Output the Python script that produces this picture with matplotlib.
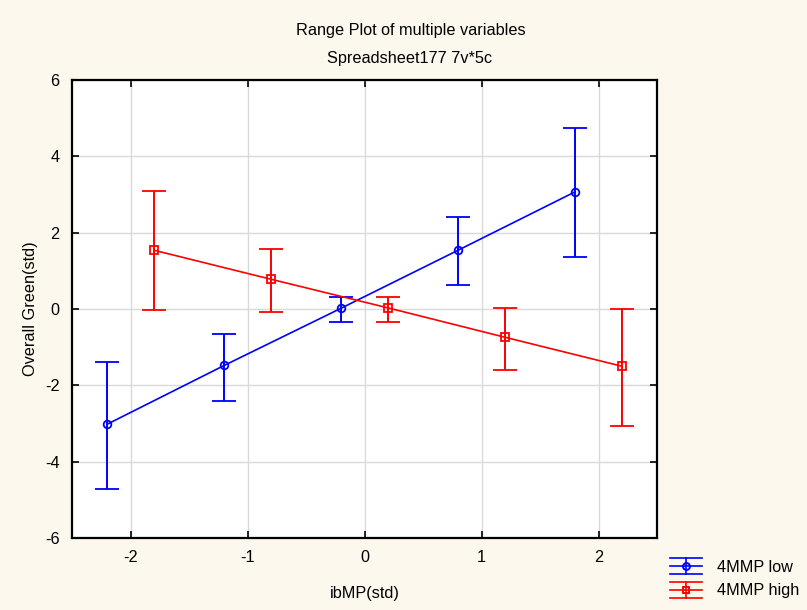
import matplotlib
matplotlib.use("Agg")
import matplotlib.pyplot as plt
from matplotlib.lines import Line2D

plt.rcParams['font.family'] = ['Liberation Sans', 'DejaVu Sans']

x_low = [-2.2, -1.2, -0.2, 0.8, 1.8]
y_low = [-3.02, -1.48, 0.02, 1.54, 3.07]
up_low = [-1.40, -0.66, 0.32, 2.41, 4.73]
lo_low = [-4.72, -2.42, -0.35, 0.63, 1.36]

x_high = [-1.8, -0.8, 0.2, 1.2, 2.2]
y_high = [1.54, 0.78, 0.03, -0.74, -1.50]
up_high = [3.08, 1.58, 0.32, 0.03, -0.01]
lo_high = [-0.02, -0.07, -0.35, -1.59, -3.07]

labels = ['4MMP low', '4MMP high']
colors = ['#0000FF', '#FF0000']
markers = ['o', 's']

xticks = [-2, -1, 0, 1, 2]
yticks = [-6, -4, -2, 0, 2, 4, 6]

W, H = 807, 610
FS = 11.7
bg = '#FCF8EE'
fig = plt.figure(figsize=(W / 100, H / 100), dpi=100, facecolor=bg)
ax = fig.add_axes([72 / W, 1 - 538 / H, (657 - 72) / W, (538 - 80) / H])
ax.set_facecolor('white')


def draw(x, y, up, lo, color, marker, label):
    yerr = [[yi - l for yi, l in zip(y, lo)], [u - yi for yi, u in zip(y, up)]]
    return ax.errorbar(x, y, yerr=yerr, color=color, ecolor=color, lw=1.2,
                       elinewidth=1.4, capsize=8.5, capthick=1.4,
                       marker=marker, ms=5.5, mfc='none', mec=color, mew=1.3,
                       label=label, zorder=3)


draw(x_low, y_low, up_low, lo_low, colors[0], markers[0], labels[0])
draw(x_high, y_high, up_high, lo_high, colors[1], markers[1], labels[1])

ax.set_xlim(-2.5, 2.5)
ax.set_ylim(-6, 6)
ax.set_xticks(xticks)
ax.set_yticks(yticks)
ax.set_xticklabels([str(v) for v in xticks])
ax.set_yticklabels([str(v) for v in yticks])
ax.grid(True, color='#D9D9D9', lw=1)
ax.set_axisbelow(True)
ax.tick_params(direction='in', top=True, right=True, length=5, width=1.2,
               labelsize=FS, pad=9, colors='black')
for s in ax.spines.values():
    s.set_linewidth(1.6)
    s.set_color('black')

ax.set_xlabel('ibMP(std)', fontsize=FS, labelpad=15)
ax.set_ylabel('Overall Green(std)', fontsize=FS, labelpad=5)

fig.text(411 / W, 1 - 30 / H, 'Range Plot of multiple variables', ha='center', va='center', fontsize=FS)
fig.text(410 / W, 1 - 58 / H, 'Spreadsheet177 7v*5c', ha='center', va='center', fontsize=FS)


# Legend (drawn manually to match the range-plot glyph)
def fx(px):
    return px / W


def fy(py):
    return 1 - py / H


x0, x1, xc = 670, 702, 686
for i, (lab, col, mk) in enumerate(zip(labels, colors, markers)):
    yc = 566 + i * 24
    for dy in (-8, 0, 8):
        fig.add_artist(Line2D([fx(x0), fx(x1)], [fy(yc + dy), fy(yc + dy)],
                              transform=fig.transFigure, color=col, lw=1.2))
    fig.add_artist(Line2D([fx(xc), fx(xc)], [fy(yc - 8), fy(yc + 8)],
                          transform=fig.transFigure, color=col, lw=1.2))
    fig.add_artist(Line2D([fx(xc)], [fy(yc)], transform=fig.transFigure,
                          marker=mk, ms=5, mfc='none', mec=col, mew=1.4, lw=0))
    fig.text(fx(717), fy(yc + 1), lab, ha='left', va='center', fontsize=FS)

fig.savefig('out.png', dpi=100, facecolor=bg)
